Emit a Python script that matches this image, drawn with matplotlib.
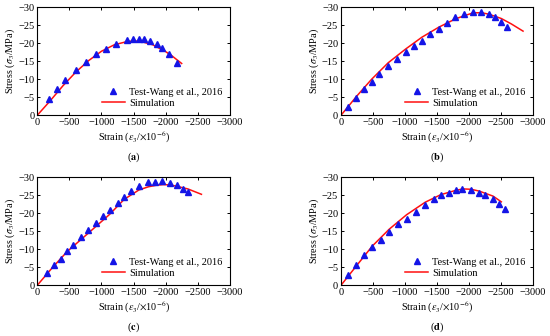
import matplotlib
matplotlib.use("Agg")
import matplotlib.pyplot as plt

plt.rcParams['font.family'] = ['Liberation Serif', 'DejaVu Serif']
plt.rcParams['mathtext.fontset'] = 'stix'

# ---- data (strain in 1e-6, stress in MPa; negative = compression)
test_a_strain = [187, 301, 431, 602, 752, 918, 1064, 1220, 1391, 1489, 1578, 1666, 1759, 1858, 1951, 2055, 2180]
test_a_stress = [4.6, 7.3, 9.8, 12.7, 14.7, 16.9, 18.5, 19.8, 20.9, 21.2, 21.3, 21.1, 20.6, 19.8, 18.6, 16.9, 14.5]
sim_a_strain = [0, 200, 400, 600, 800, 1000, 1200, 1400, 1500, 1600, 1800, 2000, 2100, 2250]
sim_a_stress = [0, 4.0, 8.2, 12.0, 15.2, 17.8, 19.6, 20.5, 20.65, 20.6, 19.6, 17.7, 16.5, 14.4]

test_b_strain = [114, 234, 359, 478, 598, 738, 874, 1009, 1134, 1264, 1394, 1529, 1659, 1789,
                 1929, 2064, 2194, 2314, 2408, 2506, 2590]
test_b_stress = [2.4, 4.8, 7.2, 9.3, 11.5, 13.8, 15.6, 17.6, 19.3, 20.7, 22.6, 24.1, 25.6, 27.3,
                 28.1, 28.6, 28.7, 28.3, 27.2, 25.9, 24.6]
sim_b_strain = [0, 250, 478, 738, 1009, 1264, 1529, 1789, 1929, 2070, 2200, 2314, 2506, 2662, 2845]
sim_b_stress = [0, 5.4, 10.0, 14.6, 18.4, 21.7, 24.5, 26.8, 27.7, 28.5, 28.5, 28.1, 26.9, 25.4, 23.4]

test_c_strain = [156, 259, 363, 467, 560, 680, 789, 913, 1027, 1126, 1251, 1354, 1453, 1583,
                 1733, 1832, 1951, 2065, 2180, 2273, 2346]
test_c_stress = [3.3, 5.5, 7.3, 9.6, 11.3, 13.5, 15.4, 17.3, 19.2, 21.0, 22.8, 24.6, 26.1, 27.7,
                 28.6, 28.7, 29.0, 28.5, 27.9, 26.8, 26.0]
sim_c_strain = [0, 230, 467, 789, 1126, 1354, 1583, 1733, 1850, 1962, 2080, 2180, 2346, 2558]
sim_c_stress = [0, 4.8, 9.4, 14.4, 19.7, 23.9, 26.5, 27.4, 27.8, 28.0, 27.9, 27.5, 26.8, 25.3]

test_d_strain = [104, 229, 359, 489, 624, 754, 889, 1024, 1175, 1316, 1446, 1560, 1690, 1794,
                 1898, 2033, 2158, 2257, 2376, 2465, 2564]
test_d_stress = [2.8, 5.6, 8.3, 10.6, 12.7, 14.9, 17.0, 18.5, 20.5, 22.3, 23.9, 25.0, 25.8, 26.4,
                 26.7, 26.4, 25.7, 25.1, 23.9, 22.7, 21.3]
sim_d_strain = [0, 250, 489, 754, 1024, 1316, 1560, 1794, 1908, 2033, 2158, 2376, 2506]
sim_d_stress = [0, 5.6, 10.9, 15.6, 19.6, 23.1, 25.2, 26.4, 26.8, 26.7, 26.2, 24.8, 23.2]

panels = [
    ('a', test_a_strain, test_a_stress, sim_a_strain, sim_a_stress, [0.0678, 0.657, 0.350, 0.321]),
    ('b', test_b_strain, test_b_stress, sim_b_strain, sim_b_stress, [0.620, 0.657, 0.349, 0.321]),
    ('c', test_c_strain, test_c_stress, sim_c_strain, sim_c_stress, [0.0678, 0.151, 0.350, 0.321]),
    ('d', test_d_strain, test_d_stress, sim_d_strain, sim_d_stress, [0.620, 0.151, 0.349, 0.321]),
]

xticks = [0, -500, -1000, -1500, -2000, -2500, -3000]
yticks = [0, -5, -10, -15, -20, -25, -30]

fig = plt.figure(figsize=(5.5, 3.36), dpi=100)

for tag, ts, tp, ss, sp, rect in panels:
    ax = fig.add_axes(rect)
    ax.plot([-v for v in ss], [-v for v in sp], color='#ff1010', lw=1.1, label='Simulation', zorder=2)
    ax.plot([-v for v in ts], [-v for v in tp], ls='none', marker='^', ms=4.2, color='#1414e6',
            label='Test-Wang et al., 2016', zorder=3)
    ax.set_xlim(0, -3000)
    ax.set_ylim(0, -30)
    ax.set_xticks(xticks)
    ax.set_yticks(yticks)
    ax.set_xticklabels(['\u2212' + str(-v) if v else '0' for v in xticks])
    ax.set_yticklabels(['\u2212' + str(-v) if v else '0' for v in yticks])
    ax.tick_params(direction='in', top=True, right=True, length=2.5, width=0.7, labelsize=7.5, pad=2)
    for sp_ in ax.spines.values():
        sp_.set_linewidth(0.8)
    ax.set_xlabel(r'Strain ($\varepsilon_3$/$\times$10$^{-6}$)', fontsize=7.3, labelpad=2)
    ax.set_ylabel(r'Stress ($\sigma_3$/MPa)', fontsize=7.3, labelpad=1)
    h, l = ax.get_legend_handles_labels()
    ax.legend(h[::-1], l[::-1], loc='lower right', frameon=False, fontsize=7.5,
              handlelength=2.2, handletextpad=0.4, borderaxespad=0.3, labelspacing=0.2)
    cx = rect[0] + rect[2] / 2
    fig.text(cx, rect[1] - 0.125, '(' + r'$\mathbf{' + tag + '}$' + ')', ha='center', va='center', fontsize=7.5)

fig.savefig('out.png', dpi=100)
